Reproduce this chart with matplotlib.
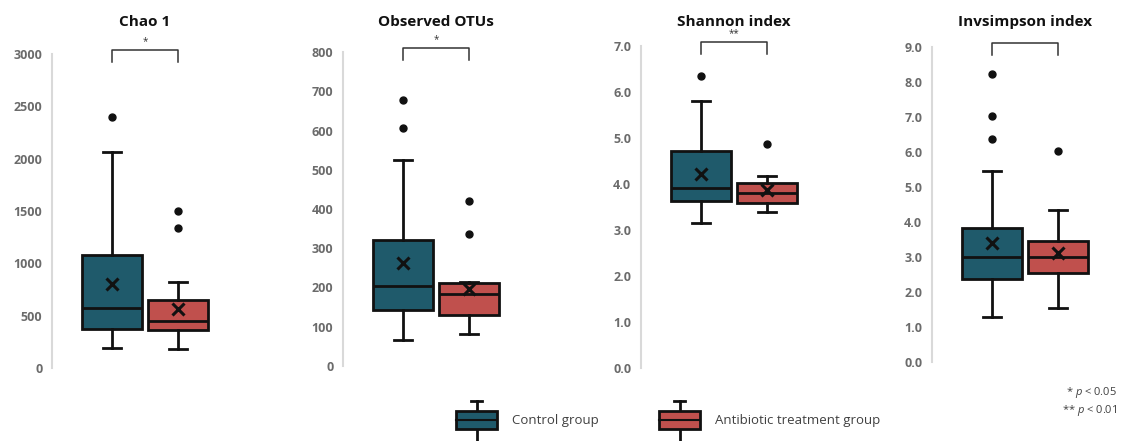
import matplotlib
matplotlib.use("Agg")
import matplotlib.pyplot as plt
from matplotlib.legend_handler import HandlerBase
from matplotlib.patches import Patch, Rectangle
from matplotlib.lines import Line2D
from matplotlib.transforms import blended_transform_factory
import numpy as np

plt.rcParams["font.family"] = ["Open Sans", "DejaVu Sans"]
plt.rcParams["mathtext.fontset"] = "custom"
plt.rcParams["mathtext.it"] = "Open Sans:italic"
plt.rcParams["mathtext.rm"] = "Open Sans"

# ---- data: [whisker low, Q1, median, Q3, whisker high] ----
groups = ["Control group", "Antibiotic treatment group"]
titles = ["Chao 1", "Observed OTUs", "Shannon index", "Invsimpson index"]

chao1_control = [190, 370, 570, 1080, 2060]
chao1_antibiotic = [180, 360, 445, 650, 825]
chao1_means = [805, 565]
chao1_outliers = [[2400], [1335, 1500]]

otus_control = [65, 142, 203, 320, 526]
otus_antibiotic = [82, 131, 184, 211, 214]
otus_means = [263, 196]
otus_outliers = [[606, 677], [337, 421]]

shannon_control = [3.16, 3.63, 3.91, 4.71, 5.81]
shannon_antibiotic = [3.40, 3.59, 3.80, 4.03, 4.18]
shannon_means = [4.22, 3.86]
shannon_outliers = [[6.34], [4.87]]

invsimpson_control = [1.29, 2.37, 2.99, 3.84, 5.47]
invsimpson_antibiotic = [1.53, 2.55, 2.99, 3.47, 4.35]
invsimpson_means = [3.40, 3.12]
invsimpson_outliers = [[6.37, 7.03, 8.24], [6.03]]

significance = ["*", "*", "**", ""]
y_max = [3000, 800, 7.0, 9.0]
y_step = [500, 100, 1.0, 1.0]
y_fmt = ["{:.0f}", "{:.0f}", "{:.1f}", "{:.1f}"]

panels = [
    (chao1_control, chao1_antibiotic, chao1_means, chao1_outliers),
    (otus_control, otus_antibiotic, otus_means, otus_outliers),
    (shannon_control, shannon_antibiotic, shannon_means, shannon_outliers),
    (invsimpson_control, invsimpson_antibiotic, invsimpson_means, invsimpson_outliers),
]

COLORS = ["#1F5A6B", "#C0504D"]
EDGE = "#111111"
TICK_COLOR = "#6b6b6b"

W, H = 1123, 441
fig = plt.figure(figsize=(W / 100, H / 100), dpi=100)

# axes placement in pixels: (left spine x, bottom y, top y)
axes_px = [(52, 368, 54), (343, 366, 52), (641, 368, 46), (932, 362, 47)]
ax_width_px = 200
px_per_unit = 66.0


def make_stats(five, mean, fliers, label):
    lo, q1, med, q3, hi = five
    return dict(whislo=lo, q1=q1, med=med, q3=q3, whishi=hi,
                mean=mean, fliers=np.array(fliers), label=label)


for i, (ctrl, abx, means, outl) in enumerate(panels):
    left, bot, top = axes_px[i]
    ax = fig.add_axes([left / W, 1 - bot / H, ax_width_px / W, (bot - top) / H])

    stats = [make_stats(ctrl, means[0], outl[0], groups[0]),
             make_stats(abx, means[1], outl[1], groups[1])]
    bp = ax.bxp(
        stats, positions=[1, 2], widths=0.91, capwidths=0.28,
        patch_artist=True, showmeans=True,
        boxprops=dict(linewidth=2, edgecolor=EDGE),
        whiskerprops=dict(linewidth=2, color=EDGE),
        capprops=dict(linewidth=2, color=EDGE),
        medianprops=dict(linewidth=2, color=EDGE),
        meanprops=dict(marker="x", markersize=8, markeredgewidth=2.2,
                       markeredgecolor=EDGE, linestyle="none"),
        flierprops=dict(marker="o", markersize=5, markerfacecolor=EDGE,
                        markeredgecolor=EDGE, linestyle="none"),
    )
    for patch, c in zip(bp["boxes"], COLORS):
        patch.set_facecolor(c)

    x0 = 1 - 60 / px_per_unit
    ax.set_xlim(x0, x0 + ax_width_px / px_per_unit)
    ax.set_ylim(0, y_max[i])
    ticks = np.arange(0, y_max[i] + y_step[i] / 2, y_step[i])
    ax.set_yticks(ticks)
    ax.set_yticklabels([y_fmt[i].format(t) for t in ticks])
    ax.set_xticks([])
    ax.tick_params(axis="y", length=0, pad=7, labelsize=9, labelcolor=TICK_COLOR)
    for lbl in ax.get_yticklabels():
        lbl.set_fontweight("bold")
    for s in ["top", "right", "bottom"]:
        ax.spines[s].set_visible(False)
    ax.spines["left"].set_color("#d9d9d9")
    ax.spines["left"].set_linewidth(1.5)
    ax.patch.set_alpha(0)

    # significance bracket
    xt = ax.get_xaxis_transform()
    ax.plot([1, 1, 2, 2], [0.975, 1.012, 1.012, 0.975], color="#333333",
            linewidth=1.1, transform=xt, clip_on=False)
    if significance[i]:
        ax.text(1.5, 1.022, significance[i], transform=xt, ha="center",
                va="bottom", fontsize=7, color="#333333")

    # panel title
    tt = blended_transform_factory(ax.transData, fig.transFigure)
    ax.text(1.5, 1 - 22 / H, titles[i], transform=tt, ha="center", va="center",
            fontsize=11, fontweight="bold", color="#111111")


class BoxHandler(HandlerBase):
    """Legend key drawn as a tiny box-and-whisker glyph."""

    def create_artists(self, legend, orig_handle, xdescent, ydescent,
                       width, height, fontsize, trans):
        x0, y0 = -xdescent, -ydescent
        bh = height * 0.48
        by = y0 + (height - bh) / 2
        cx = x0 + width / 2
        cw = width * 0.26
        arts = [
            Line2D([cx, cx], [by + bh, y0 + height], color=EDGE, lw=2),
            Line2D([cx - cw / 2, cx + cw / 2], [y0 + height] * 2, color=EDGE, lw=2),
            Line2D([cx, cx], [y0 - 10, by], color=EDGE, lw=2),
            Rectangle((x0, by), width, bh, facecolor=orig_handle.get_facecolor(),
                      edgecolor=EDGE, lw=2),
            Line2D([x0, x0 + width], [by + bh / 2] * 2, color=EDGE, lw=1.5),
        ]
        for a in arts:
            a.set_transform(trans)
        return arts


handles = [Patch(facecolor=c) for c in COLORS]
fig.legend(handles, groups, handler_map={Patch: BoxHandler()}, ncol=2,
           loc="center", bbox_to_anchor=(668 / W, 1 - 420 / H), frameon=False,
           fontsize=9.5, labelcolor="#404040", handlelength=3.1,
           handleheight=4.0, handletextpad=1.1, columnspacing=4.6)

fig.text(1117 / W, 1 - 393 / H, r"* $p$ < 0.05", ha="right", va="center",
         fontsize=8, color="#404040")
fig.text(1117 / W, 1 - 410 / H, r"** $p$ < 0.01", ha="right", va="center",
         fontsize=8, color="#404040")

fig.savefig("out.png", dpi=100, facecolor="white")
